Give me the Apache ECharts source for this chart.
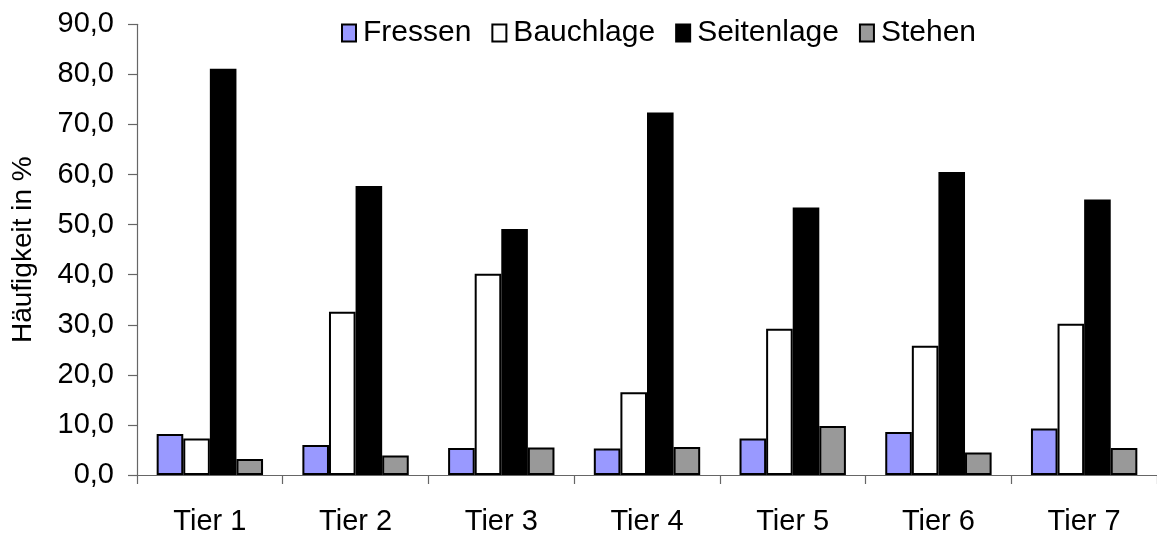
<!DOCTYPE html>
<html>
<head>
<meta charset="utf-8">
<script src="https://cdn.jsdelivr.net/npm/echarts@6/dist/echarts.min.js"></script>
<style>
html,body{margin:0;padding:0;background:#fff;}
#chart{width:1157px;height:536px;}
</style>
</head>
<body>
<div id="chart"></div>
<script>
const categories = ['Tier 1','Tier 2','Tier 3','Tier 4','Tier 5','Tier 6','Tier 7'];
const fressen    = [8.2, 6.0, 5.4, 5.3, 7.3, 8.6, 9.3];
const bauchlage  = [7.3, 32.6, 40.2, 16.5, 29.2, 25.8, 30.2];
const seitenlage = [81.1, 57.7, 49.1, 72.4, 53.4, 60.5, 55.0];
const stehen     = [3.2, 3.9, 5.5, 5.6, 9.8, 4.5, 5.4];
const seriesNames = ['Fressen','Bauchlage','Seitenlage','Stehen'];
const yTitle = 'Häufigkeit in %';

const FONT = '"Liberation Sans", Arial, sans-serif';
const colors = ['#9999ff', '#ffffff', '#000000', '#999999'];
const dataSets = [fressen, bauchlage, seitenlage, stehen];

const chart = echarts.init(document.getElementById('chart'), null, {renderer:'canvas'});
chart.setOption({
  animation: false,
  backgroundColor: '#ffffff',
  textStyle: {fontFamily: FONT},
  legend: {
    left: 336, top: 13,
    itemWidth: 14, itemHeight: 17, itemGap: 20,
    icon: 'rect',
    itemStyle: {borderColor: '#000', borderWidth: 2},
    textStyle: {fontFamily: FONT, fontSize: 30, color: '#000', padding: [0,0,0,2]},
    data: seriesNames
  },
  grid: {left: 137, top: 24.3, width: 1024.5, bottom: 60, containLabel: false},
  xAxis: {
    type: 'category',
    data: categories,
    axisLine: {lineStyle: {color: '#666', width: 1.2}},
    axisTick: {show: true, length: 9, lineStyle: {color: '#666', width: 1.2}},
    axisLabel: {fontFamily: FONT, fontSize: 29, color: '#000', margin: 32}
  },
  yAxis: {
    type: 'value', min: 0, max: 90, interval: 10,
    name: yTitle, nameLocation: 'middle', nameGap: 100,
    nameTextStyle: {fontFamily: FONT, fontSize: 28, color: '#000'},
    axisLine: {show: true, lineStyle: {color: '#666', width: 1.2}},
    axisTick: {show: true, length: 9, lineStyle: {color: '#666', width: 1.2}},
    splitLine: {show: false},
    axisLabel: {fontFamily: FONT, fontSize: 29, color: '#000', margin: 23,
      formatter: v => v.toFixed(1).replace('.', ',')}
  },
  series: seriesNames.map((n, i) => ({
    name: n, type: 'bar',
    data: dataSets[i],
    barGap: '0%', barCategoryGap: '27%',
    itemStyle: {color: colors[i], borderColor: '#000', borderWidth: 2}
  }))
});
</script>
</body>
</html>
